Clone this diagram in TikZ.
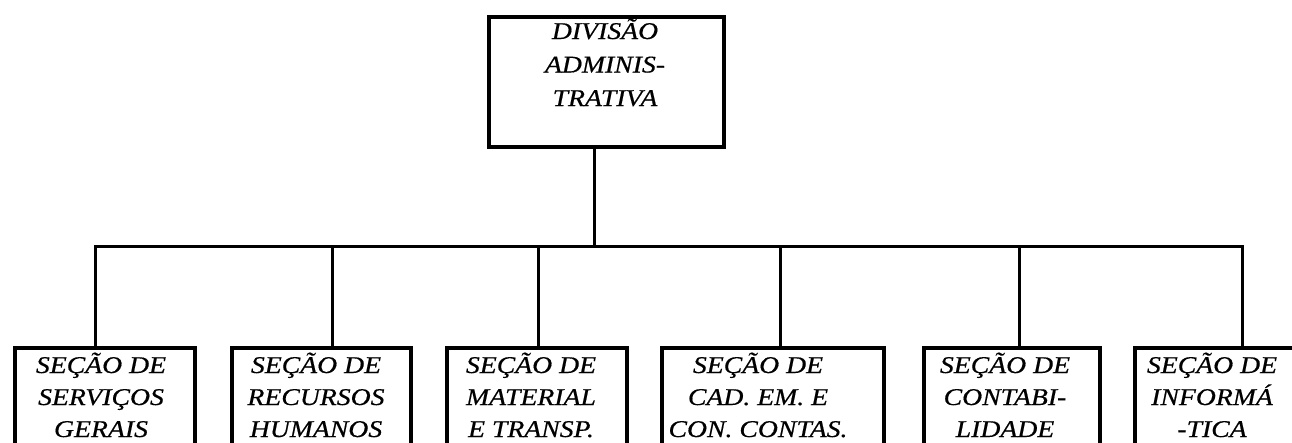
\documentclass[tikz,border=0pt]{standalone}
\usepackage{fontspec}
\setmainfont{Liberation Serif}
\newfontfamily\orgfont[FakeStretch=1.155,FakeBold=0.5]{Liberation Serif}
\begin{document}
\begin{tikzpicture}[x=1pt,y=-1pt,
  box/.style={draw,line width=3.5pt,rectangle,inner sep=0pt,anchor=north west},
  lbl/.style={align=center,inner sep=0pt,anchor=base,font=\orgfont\itshape\fontsize{24}{32}\selectfont},
  toplbl/.style={lbl,font=\orgfont\itshape\fontsize{24}{33.5}\selectfont},
  conn/.style={line width=3pt}]
\useasboundingbox (0,0) rectangle (1292,442);
\clip (0,0) rectangle (1292,442);
\fill[white] (0,0) rectangle (1292,442);
% top box
\node[box,minimum width=235pt,minimum height=130pt] (top) at (487,15) {};
\node[toplbl] (ttop) at (605,106) {DIVISÃO\\ADMINIS-\\TRATIVA};
% bottom boxes
\node[box,minimum width=180pt,minimum height=140pt] (b1) at (13,346) {};
\node[box,minimum width=179pt,minimum height=140pt] (b2) at (230,346) {};
\node[box,minimum width=180pt,minimum height=140pt] (b3) at (445,346) {};
\node[box,minimum width=222pt,minimum height=140pt] (b4) at (660,346) {};
\node[box,minimum width=176pt,minimum height=140pt] (b5) at (922,346) {};
\node[box,minimum width=175pt,minimum height=140pt] (b6) at (1133,346) {};
\node[lbl] (t1) at (101,437) {SEÇÃO DE\\SERVIÇOS\\GERAIS};
\node[lbl] (t2) at (316,437) {SEÇÃO DE\\RECURSOS\\HUMANOS};
\node[lbl] (t3) at (531,437) {SEÇÃO DE\\MATERIAL\\E TRANSP.};
\node[lbl] (t4) at (758,437) {SEÇÃO DE\\CAD. EM. E\\CON. CONTAS.};
\node[lbl] (t5) at (1005,437) {SEÇÃO DE\\CONTABI-\\LIDADE};
\node[lbl] (t6) at (1212,437) {SEÇÃO DE\\INFORMÁ\\-TICA};
% connectors
\coordinate (bus) at (594,246);
\draw[conn] (top.south -| bus) -- (bus);
\draw[conn] (95,246 |- b1.north) -- (95,246) -- (1242,246) -- (1242,246 |- b6.north);
\draw[conn] (332,246) -- (332,246 |- b2.north);
\draw[conn] (538,246) -- (538,246 |- b3.north);
\draw[conn] (780,246) -- (780,246 |- b4.north);
\draw[conn] (1019,246) -- (1019,246 |- b5.north);
\end{tikzpicture}
\end{document}
